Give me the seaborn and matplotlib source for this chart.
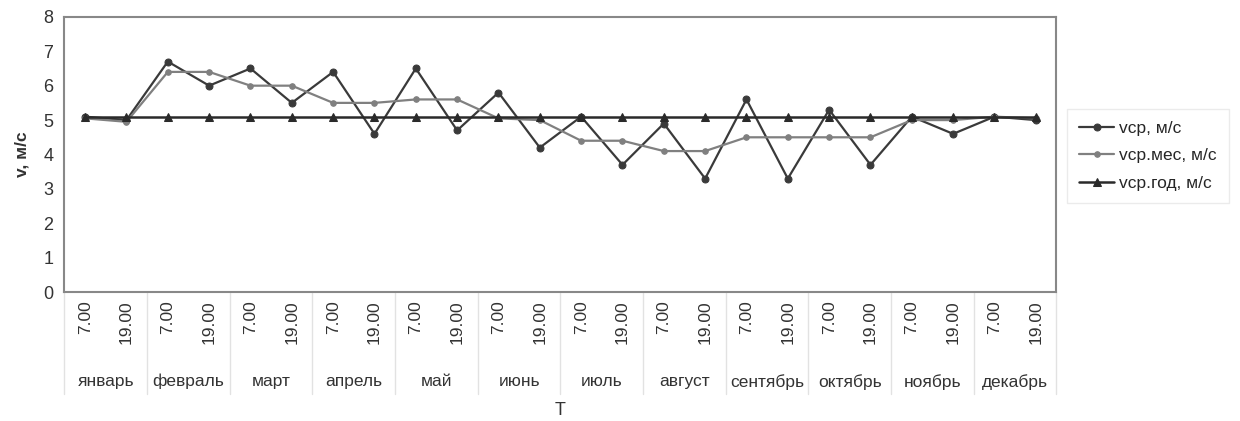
import matplotlib
matplotlib.use("Agg")
import matplotlib.pyplot as plt
import matplotlib.transforms as mtransforms
import seaborn as sns
import pandas as pd

months = ["январь", "февраль", "март", "апрель", "май", "июнь",
          "июль", "август", "сентябрь", "октябрь", "ноябрь", "декабрь"]
hours = ["7.00", "19.00"]

v_sr = [5.1, 5.0, 6.7, 6.0, 6.5, 5.5, 6.4, 4.6, 6.5, 4.7, 5.8, 4.2,
        5.1, 3.7, 4.9, 3.3, 5.6, 3.3, 5.3, 3.7, 5.1, 4.6, 5.1, 5.0]
v_mes = [5.05, 4.95, 6.4, 6.4, 6.0, 6.0, 5.5, 5.5, 5.6, 5.6, 5.05, 5.0,
         4.4, 4.4, 4.1, 4.1, 4.5, 4.5, 4.5, 4.5, 5.0, 5.0, 5.1, 5.05]
v_god = [5.1] * 24

series_names = ["vср, м/с", "vср.мес, м/с", "vср.год, м/с"]

sns.set_theme(style="white")
plt.rcParams["font.family"] = ["Liberation Sans", "DejaVu Sans"]

fig = plt.figure(figsize=(12.4, 4.21), dpi=100)
ax = fig.add_axes([0.052, 0.306, 0.800, 0.654])

pos = list(range(len(v_sr)))
df = pd.DataFrame({"x": pos * 3,
                   "v": v_sr + v_mes + v_god,
                   "s": [series_names[0]] * 24 + [series_names[1]] * 24 + [series_names[2]] * 24})

styles = {
    series_names[0]: dict(color="#3a3a3a", marker="o", ms=5, lw=1.6),
    series_names[1]: dict(color="#808080", marker="o", ms=4, lw=1.6),
    series_names[2]: dict(color="#2a2a2a", marker="^", ms=6, lw=1.8),
}
for name in series_names:
    st = styles[name]
    sns.lineplot(data=df[df.s == name], x="x", y="v", ax=ax, color=st["color"],
                 marker=st["marker"], markersize=st["ms"], linewidth=st["lw"],
                 markeredgecolor=st["color"], label=name, legend=False)

ax.set_xlim(-0.5, 23.5)
ax.set_ylim(0, 8)
ax.set_yticks(range(0, 9))
ax.set_yticklabels([str(i) for i in range(0, 9)], fontsize=13, color="#333333")
ax.set_xticks(pos)
ax.set_xticklabels([hours[i % 2] for i in pos], rotation=90, fontsize=12.5, color="#333333")
ax.tick_params(axis="x", length=0, pad=6)
ax.tick_params(axis="y", length=0, pad=8)
for sp in ax.spines.values():
    sp.set_color("#888888")
    sp.set_linewidth(1.5)

ax.set_ylabel("v, м/с", fontsize=12.5, fontweight="bold", color="#333333", labelpad=10)
ax.set_xlabel("")

trans = mtransforms.blended_transform_factory(ax.transData, ax.transAxes)
for m in range(13):
    xb = 2 * m - 0.5
    ax.plot([xb, xb], [0, -0.37], transform=trans, color="#e2e2e2", lw=1, clip_on=False)
for i, mname in enumerate(months):
    ax.text(2 * i + 0.5, -0.325, mname, transform=trans, ha="center", va="center",
            fontsize=12.5, color="#333333")
ax.text(11.5, -0.43, "T", transform=trans, ha="center", va="center", fontsize=13, color="#333333")

handles, labels = ax.get_legend_handles_labels()
leg = fig.legend(handles, labels, loc="center left", bbox_to_anchor=(0.862, 0.63),
                 fontsize=12.5, frameon=True, handlelength=2.0, labelspacing=0.7,
                 borderpad=0.4, handletextpad=0.3, borderaxespad=0.2)
leg.get_frame().set_edgecolor("#e6e6e6")
leg.get_frame().set_linewidth(1)
leg.get_frame().set_boxstyle("square")

fig.savefig("out.png", dpi=100)
